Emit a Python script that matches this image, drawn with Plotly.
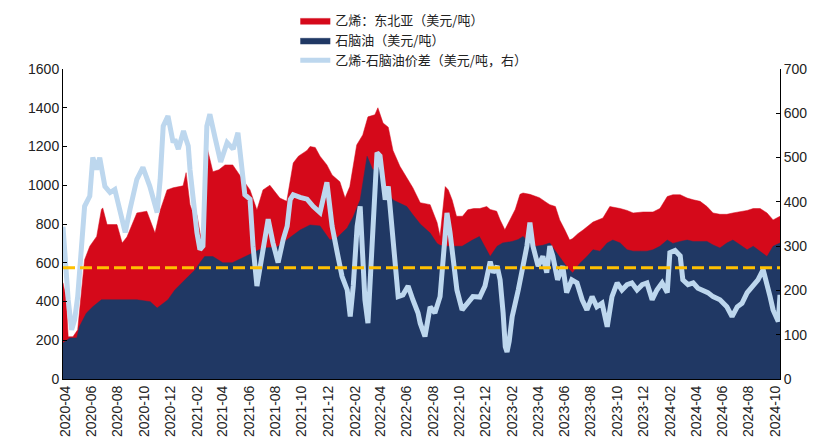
import plotly.graph_objects as go

# 乙烯：东北亚（美元/吨）
ethylene_dates = [
    "2020-03-27", "2020-04-03", "2020-04-08", "2020-04-19", "2020-04-30", "2020-05-09", "2020-05-16",
    "2020-05-28", "2020-06-13", "2020-06-24", "2020-06-27", "2020-07-07", "2020-07-30", "2020-08-11",
    "2020-08-22", "2020-09-14", "2020-10-07", "2020-10-26", "2020-11-07", "2020-11-23", "2020-12-07",
    "2020-12-30", "2021-01-06", "2021-01-15", "2021-01-22", "2021-01-31", "2021-02-10", "2021-02-16",
    "2021-02-23", "2021-03-09", "2021-03-23", "2021-04-06", "2021-04-24", "2021-05-17", "2021-06-03",
    "2021-06-19", "2021-07-03", "2021-07-19", "2021-08-11", "2021-08-27", "2021-09-11", "2021-09-23",
    "2021-10-13", "2021-10-20", "2021-11-01", "2021-11-12", "2021-11-28", "2021-12-10", "2021-12-28",
    "2022-01-09", "2022-01-20", "2022-02-05", "2022-02-19", "2022-03-03", "2022-03-19", "2022-03-26",
    "2022-04-07", "2022-04-19", "2022-04-30", "2022-05-16", "2022-06-01", "2022-06-15", "2022-07-02",
    "2022-07-25", "2022-08-10", "2022-08-17", "2022-08-29", "2022-09-05", "2022-09-14", "2022-09-24",
    "2022-10-08", "2022-10-20", "2022-11-03", "2022-11-17", "2022-12-03", "2022-12-11", "2022-12-26",
    "2023-01-03", "2023-01-14", "2023-01-25", "2023-02-07", "2023-02-18", "2023-02-25", "2023-03-13",
    "2023-04-04", "2023-04-21", "2023-04-28", "2023-05-11", "2023-05-21", "2023-06-02", "2023-06-13",
    "2023-06-20", "2023-07-02", "2023-07-14", "2023-08-06", "2023-08-29", "2023-09-14", "2023-10-08",
    "2023-10-24", "2023-11-07", "2023-11-30", "2023-12-23", "2024-01-08", "2024-01-25", "2024-02-07",
    "2024-02-24", "2024-03-11", "2024-03-25", "2024-04-10", "2024-04-26", "2024-05-10", "2024-05-26",
    "2024-06-11", "2024-06-25", "2024-07-12", "2024-07-28", "2024-08-11", "2024-08-27", "2024-09-12",
    "2024-09-26", "2024-10-12",
]
ethylene_values = [
    497, 420, 218, 218, 254, 461, 616,
    685, 736, 875, 883, 797, 797, 702,
    733, 857, 866, 753, 870, 976, 987,
    997, 1065, 900, 857, 848, 720, 850,
    1200, 1070, 1080, 1105, 1105, 1030, 976,
    872, 976, 1000, 934, 917, 1115, 1150,
    1180, 1200, 1195, 1150, 1105, 1053, 1018,
    934, 993, 1208, 1260, 1353, 1364, 1400,
    1321, 1300, 1180, 1098, 1036, 987, 910,
    900, 808, 736, 993, 976, 924, 840,
    840, 873, 880, 880, 890, 875, 866,
    821, 770, 821, 875, 953, 960, 953,
    936, 910, 900, 890, 821, 769, 717,
    725, 750, 769, 810, 831, 890, 880,
    870, 857, 862, 862, 880, 942, 951,
    951, 934, 925, 917, 890, 857, 850,
    850, 857, 862, 870, 880, 880, 857,
    821, 840,
]

# 石脑油（美元/吨）
naphtha_dates = [
    "2020-03-27", "2020-04-12", "2020-04-28", "2020-05-04", "2020-05-20", "2020-06-04", "2020-06-24",
    "2020-07-24", "2020-08-20", "2020-09-14", "2020-10-15", "2020-10-31", "2020-11-25", "2020-12-11",
    "2021-01-08", "2021-01-27", "2021-02-07", "2021-02-18", "2021-03-09", "2021-04-01", "2021-04-23",
    "2021-05-17", "2021-06-10", "2021-07-03", "2021-08-04", "2021-08-27", "2021-09-27", "2021-10-20",
    "2021-11-12", "2021-12-05", "2021-12-22", "2022-01-14", "2022-01-28", "2022-02-13", "2022-03-01",
    "2022-03-14", "2022-03-31", "2022-04-15", "2022-04-30", "2022-05-16", "2022-06-01", "2022-06-15",
    "2022-07-02", "2022-07-25", "2022-08-10", "2022-08-17", "2022-09-02", "2022-09-25", "2022-10-07",
    "2022-10-31", "2022-11-16", "2022-12-11", "2022-12-27", "2023-01-09", "2023-01-31", "2023-02-14",
    "2023-02-25", "2023-03-13", "2023-03-27", "2023-04-12", "2023-04-28", "2023-05-06", "2023-05-21",
    "2023-06-06", "2023-06-20", "2023-07-07", "2023-07-23", "2023-08-06", "2023-08-22", "2023-09-08",
    "2023-09-21", "2023-10-08", "2023-10-24", "2023-11-07", "2023-11-23", "2023-12-09", "2023-12-23",
    "2024-01-08", "2024-01-25", "2024-02-07", "2024-02-24", "2024-03-11", "2024-03-25", "2024-04-10",
    "2024-04-26", "2024-05-10", "2024-05-26", "2024-06-11", "2024-06-25", "2024-07-12", "2024-07-28",
    "2024-08-11", "2024-08-27", "2024-09-12", "2024-09-26", "2024-10-12",
]
naphtha_values = [
    186, 212, 212, 270, 340, 373, 409,
    409, 412, 409, 399, 366, 409, 460,
    522, 564, 600, 632, 632, 600, 600,
    626, 650, 676, 680, 717, 769, 795,
    790, 717, 730, 780, 838, 924, 1150,
    1080, 1098, 976, 924, 907, 890, 848,
    800, 753, 700, 690, 685, 685, 685,
    717, 735, 632, 685, 702, 710, 720,
    736, 702, 685, 690, 702, 676, 632,
    580, 547, 598, 632, 667, 660, 702,
    717, 702, 667, 660, 660, 660, 667,
    685, 717, 700, 710, 717, 710, 710,
    710, 692, 676, 702, 717, 692, 667,
    685, 660, 632, 685, 702,
]

# 乙烯-石脑油价差（美元/吨，右）
spread_dates = [
    "2020-03-27", "2020-04-01", "2020-04-08", "2020-04-16", "2020-04-23", "2020-04-30", "2020-05-09",
    "2020-05-16", "2020-05-28", "2020-06-04", "2020-06-13", "2020-06-20", "2020-07-02", "2020-07-14",
    "2020-07-25", "2020-08-06", "2020-08-18", "2020-08-29", "2020-09-14", "2020-09-28", "2020-10-14",
    "2020-10-31", "2020-11-07", "2020-11-14", "2020-11-25", "2020-12-07", "2020-12-11", "2020-12-19",
    "2020-12-31", "2021-01-06", "2021-01-11", "2021-01-15", "2021-01-22", "2021-01-31", "2021-02-07",
    "2021-02-14", "2021-02-23", "2021-03-02", "2021-03-14", "2021-03-27", "2021-04-11", "2021-04-25",
    "2021-05-06", "2021-05-15", "2021-05-22", "2021-06-03", "2021-06-10", "2021-06-19", "2021-06-26",
    "2021-07-08", "2021-07-15", "2021-07-26", "2021-08-07", "2021-08-19", "2021-08-28", "2021-09-04",
    "2021-09-11", "2021-09-27", "2021-10-13", "2021-10-27", "2021-11-12", "2021-11-28", "2021-12-10",
    "2021-12-22", "2022-01-02", "2022-01-14", "2022-01-21", "2022-01-28", "2022-02-06", "2022-02-13",
    "2022-02-24", "2022-03-03", "2022-03-13", "2022-03-24", "2022-03-31", "2022-04-12", "2022-04-19",
    "2022-04-30", "2022-05-12", "2022-05-23", "2022-06-04", "2022-06-15", "2022-06-27", "2022-07-02",
    "2022-07-13", "2022-07-25", "2022-08-05", "2022-08-17", "2022-08-24", "2022-09-02", "2022-09-09",
    "2022-09-16", "2022-09-25", "2022-10-07", "2022-10-18", "2022-11-01", "2022-11-17", "2022-11-29",
    "2022-12-11", "2022-12-18", "2022-12-27", "2023-01-03", "2023-01-10", "2023-01-15", "2023-01-19",
    "2023-01-24", "2023-01-31", "2023-02-07", "2023-02-14", "2023-02-25", "2023-03-06", "2023-03-13",
    "2023-03-20", "2023-04-01", "2023-04-12", "2023-04-21", "2023-04-28", "2023-05-05", "2023-05-16",
    "2023-05-28", "2023-06-06", "2023-06-18", "2023-06-30", "2023-07-12", "2023-07-23", "2023-08-04",
    "2023-08-15", "2023-08-27", "2023-09-08", "2023-09-19", "2023-10-01", "2023-10-12", "2023-10-24",
    "2023-11-04", "2023-11-16", "2023-11-28", "2023-12-09", "2023-12-21", "2024-01-01", "2024-01-13",
    "2024-01-25", "2024-01-31", "2024-02-12", "2024-02-24", "2024-03-01", "2024-03-13", "2024-03-25",
    "2024-04-05", "2024-04-17", "2024-04-28", "2024-05-10", "2024-05-26", "2024-06-11", "2024-06-23",
    "2024-07-05", "2024-07-16", "2024-07-28", "2024-08-11", "2024-08-22", "2024-09-03", "2024-09-12",
    "2024-09-19", "2024-09-26", "2024-10-05", "2024-10-08", "2024-10-12",
]
spread_values = [
    344, 263, 179, 111, 134, 186, 308,
    390, 413, 500, 473, 500, 435, 421,
    428, 376, 331, 383, 451, 478, 435,
    376, 451, 571, 594, 534, 541, 519,
    560, 541, 526, 473, 405, 331, 292,
    300, 571, 598, 545, 490, 534, 519,
    556, 473, 416, 406, 300, 210, 255,
    316, 361, 308, 263, 316, 345, 405,
    416, 410, 406, 390, 376, 444, 345,
    285, 232, 201, 141, 210, 345, 390,
    179, 126, 331, 511, 504, 405, 435,
    315, 186, 190, 210, 179, 149, 126,
    96, 163, 149, 186, 276, 375, 331,
    270, 201, 156, 171, 186, 185, 210,
    265, 240, 255, 224, 149, 73, 61,
    85, 141, 179, 201, 255, 300, 353,
    300, 255, 277, 240, 300, 278, 224,
    255, 195, 224, 217, 179, 156, 186,
    163, 171, 118, 186, 217, 201, 213,
    217, 201, 213, 217, 179, 201, 217,
    195, 285, 290, 278, 224, 213, 217,
    205, 201, 195, 186, 179, 163, 141,
    163, 171, 195, 209, 224, 247, 217,
    186, 156, 138, 130, 190,
]

avg_spread = 251

tick_dates = [
    "2020-04-01", "2020-06-01", "2020-08-01", "2020-10-01", "2020-12-01",
    "2021-02-01", "2021-04-01", "2021-06-01", "2021-08-01", "2021-10-01", "2021-12-01",
    "2022-02-01", "2022-04-01", "2022-06-01", "2022-08-01", "2022-10-01", "2022-12-01",
    "2023-02-01", "2023-04-01", "2023-06-01", "2023-08-01", "2023-10-01", "2023-12-01",
    "2024-02-01", "2024-04-01", "2024-06-01", "2024-08-01", "2024-10-01",
]
tick_labels = [d[:7] for d in tick_dates]

RED = "#D5091A"
NAVY = "#203864"
LIGHT = "#BDD7EE"
GOLD = "#FFC000"

fig = go.Figure()
fig.add_trace(go.Scatter(
    x=ethylene_dates, y=ethylene_values, name="乙烯：东北亚（美元/吨）",
    mode="lines", line=dict(color=RED, width=0.5), fill="tozeroy", fillcolor=RED,
))
fig.add_trace(go.Scatter(
    x=naphtha_dates, y=naphtha_values, name="石脑油（美元/吨）",
    mode="lines", line=dict(color=NAVY, width=0.5), fill="tozeroy", fillcolor=NAVY,
))
fig.add_trace(go.Scatter(
    x=spread_dates, y=spread_values, name="乙烯-石脑油价差（美元/吨，右）",
    mode="lines", line=dict(color=LIGHT, width=5), yaxis="y2",
))

fig.add_shape(type="line", xref="paper", x0=0, x1=1, yref="y2", y0=avg_spread, y1=avg_spread,
              line=dict(color=GOLD, width=3, dash="12px,5px"), layer="above")

tick_font = dict(family="Liberation Sans, Arial, sans-serif", size=14, color="#222")

# the page body adds an 8px offset, so the figure is sized to fit the window
fig.update_layout(
    width=811, height=440,
    margin=dict(l=55, r=39, t=61, b=69, autoexpand=False),
    paper_bgcolor="white", plot_bgcolor="white",
    showlegend=True,
    legend=dict(
        x=0.324, y=1.205, xanchor="left", yanchor="top",
        font=dict(family="Noto Sans CJK SC, sans-serif", size=13, color="#222"),
        bgcolor="rgba(0,0,0,0)", tracegroupgap=0, itemwidth=30,
    ),
    xaxis=dict(
        type="date", range=["2020-03-27", "2024-10-12"],
        tickmode="array", tickvals=tick_dates, ticktext=tick_labels, tickangle=-90,
        showgrid=False, showline=True, linecolor="black", linewidth=1,
        ticks="", tickfont=tick_font, zeroline=False, automargin=False,
    ),
    yaxis=dict(
        range=[0, 1600], dtick=200, showgrid=False, showline=True, linecolor="black",
        linewidth=1, ticks="inside", ticklen=4, tickcolor="black", tickfont=tick_font,
        zeroline=False, automargin=False,
    ),
    yaxis2=dict(
        range=[0, 700], dtick=100, overlaying="y", side="right", showgrid=False,
        showline=True, linecolor="black", linewidth=1, ticks="inside", ticklen=4,
        tickcolor="black", tickfont=tick_font, zeroline=False, automargin=False,
    ),
)

fig.write_html("out.html")
